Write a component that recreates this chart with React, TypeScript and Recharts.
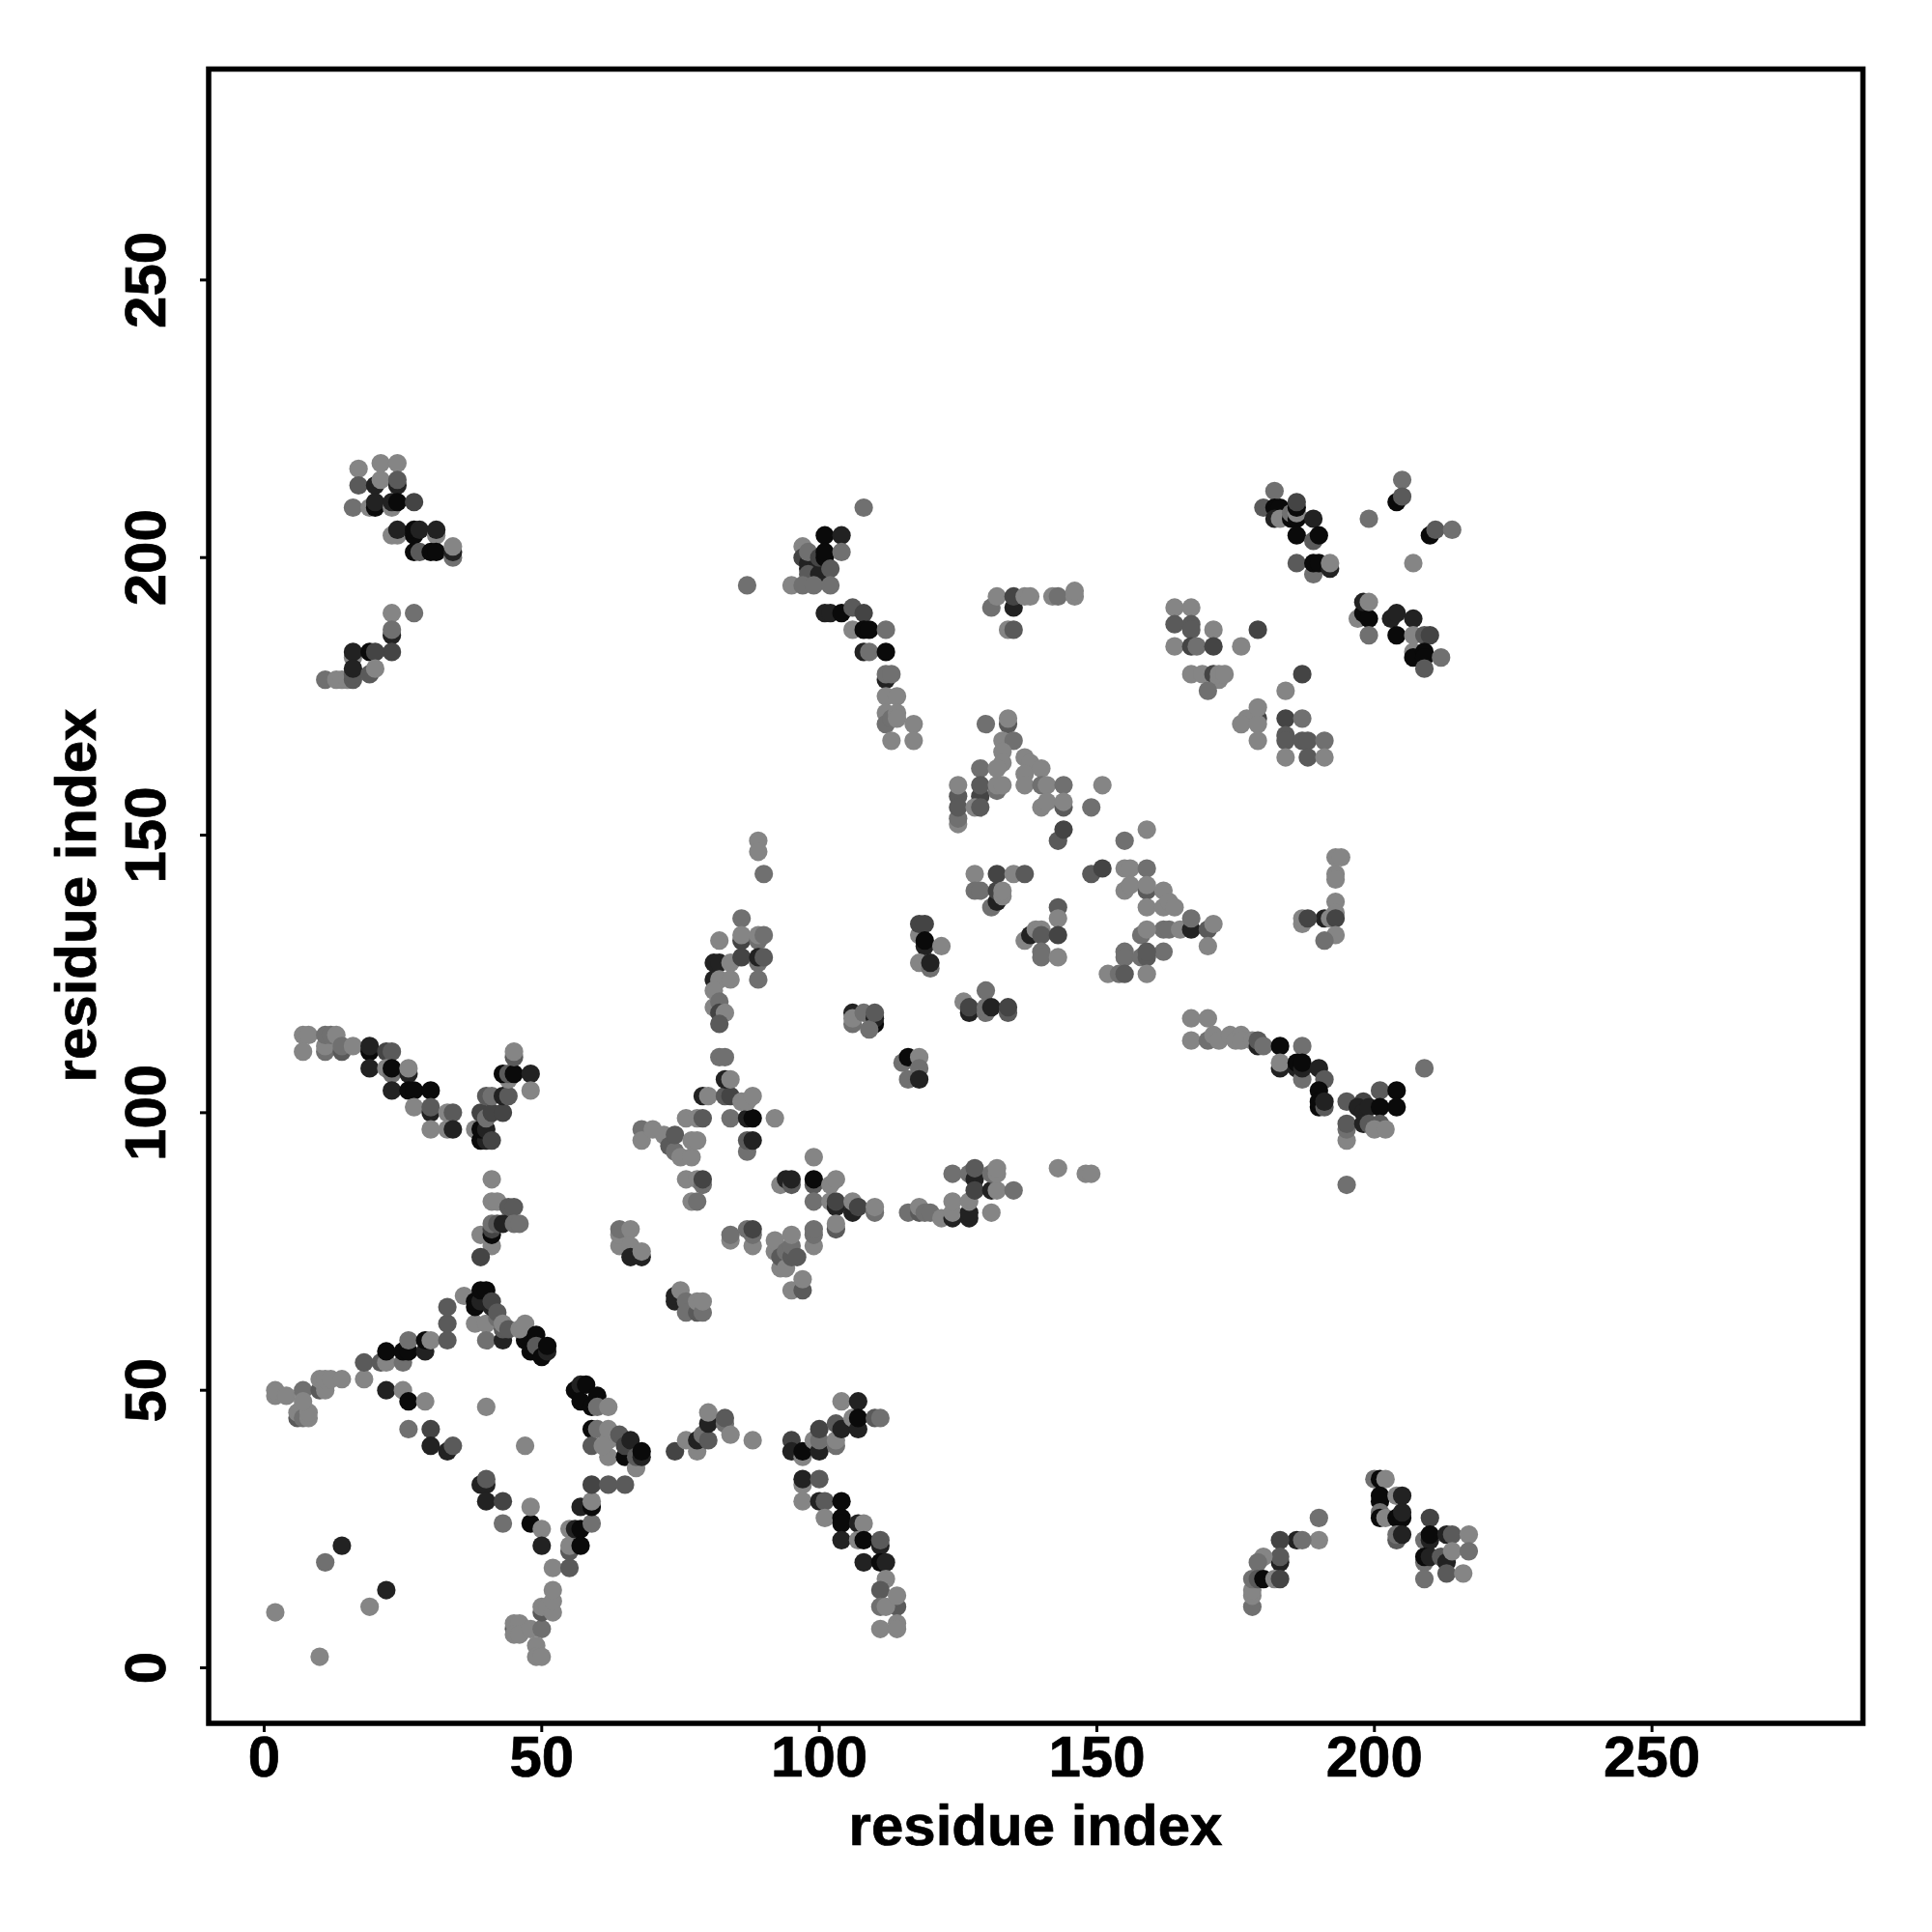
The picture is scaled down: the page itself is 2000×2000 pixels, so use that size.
import React from 'react';
import { ScatterChart, Scatter, XAxis, YAxis, ReferenceArea } from 'recharts';

type T = [number, number, number];
const FONT = '"Liberation Sans", Arial, sans-serif';
const SHADES = ['#0a0a0a', '#222222', '#444444', '#5a5a5a', '#707070', '#858585'];
const TICKS = [0, 50, 100, 150, 200, 250];

const sparse: T[] = [[2,10,5],[10,2,5],[11,19,4],[14,22,1],[19,11,5],[22,14,1],[26,43,4],[30,43,2],[30,40,1],[33,39,1],[34,40,3],[40,47,5],[47,40,5],[22,50,1],[25,50,5],[26,48,0],[29,48,5]];
const arcA: T[] = [[45,7,3],[45,8,5],[46,8,5],[45,6,5],[46,6,5],[48,7,5],[50,7,4],[49,4,5],[49,2,5],[50,2,5],[50,10,3],[50,11,5],[51,11,5],[52,10,5],[52,12,5],[52,14,5],[52,18,5],[55,18,3],[55,21,3],[55,22,5],[55,25,5],[56,25,1],[57,25,0],[57,22,0],[59,26,4],[57,29,1],[59,29,0],[59,30,5],[59,33,2],[62,33,3],[65,33,3],[39,33,1],[40,33,1],[40,34,3],[40,30,1],[43,30,2],[43,26,4],[48,26,0],[48,29,5],[50,25,5],[50,22,1]];
const arcB: T[] = [[2,49,5],[2,50,5],[4,49,5],[7,50,4],[6,45,3],[6,46,5],[7,45,4],[8,45,5],[8,46,5],[7,48,5],[10,50,3],[11,50,5],[10,52,5],[11,52,5],[12,52,5],[14,52,5],[18,52,5],[18,55,3],[21,55,3],[22,55,5],[22,57,0],[25,55,4],[25,57,0],[26,57,0],[26,59,4],[29,57,1],[29,59,0],[30,59,5],[33,59,3],[33,62,3],[33,65,3],[36,67,5],[38,62,5],[40,62,5],[40,59,4],[38,65,0],[38,66,0],[39,66,1],[39,68,0],[40,68,0],[41,65,1],[41,66,2],[42,63,4],[42,64,3],[43,59,1],[43,61,3],[43,62,5],[44,61,3],[47,59,0],[47,60,0],[46,61,5],[47,62,5],[49,60,0],[48,57,0],[49,58,3],[50,56,0],[51,57,1],[51,58,0]];
const armC: T[] = [[41,88,5],[41,84,5],[42,84,5],[44,83,3],[45,83,3],[41,76,5],[39,78,5],[41,78,0],[41,79,2],[41,80,4],[42,80,3],[43,80,1],[45,80,4],[46,80,4],[39,74,2]];
const crossD: T[] = [[56,50,0],[57,51,1],[58,51,0],[57,48,0],[59,47,0],[60,49,0],[60,47,4],[62,47,5],[59,43,0],[59,40,3],[60,43,4],[62,38,5],[62,41,5],[62,43,5],[61,40,5],[64,42,3],[65,38,0],[65,40,2],[66,41,1],[67,36,5],[67,38,3],[68,38,1],[68,39,0]];
const rowE: T[] = [[74,39,2],[76,41,5],[78,39,5],[78,41,1],[79,42,4],[80,41,3],[80,44,1],[80,46,5],[83,44,4],[83,45,3],[84,42,5],[88,41,5]];
const rowF: T[] = [[95,41,2],[95,39,1],[97,38,5],[97,39,0],[99,41,5],[100,39,1],[100,41,4],[100,43,2],[103,40,4],[103,41,5],[103,44,3],[104,43,1],[104,48,5],[106,45,5],[107,48,1],[107,43,1],[107,45,0],[110,45,3],[111,45,4]];
const armG: T[] = [[97,33,5],[97,34,1],[100,34,3],[97,30,5],[100,30,1],[101,30,3],[104,30,0],[101,27,5],[104,27,0],[104,26,0],[104,23,1],[107,26,1],[108,26,5],[107,23,5],[108,23,0],[111,22,1],[111,23,3],[108,19,1],[111,19,0],[112,19,1],[112,16,5],[111,14,3],[114,11,3],[111,11,4],[112,11,5],[114,13,5],[111,7,5],[114,8,5],[114,7,5]];
const midH: T[] = [[64,76,5],[64,78,5],[64,79,4],[66,79,5],[66,76,5],[66,74,1],[68,74,1],[68,75,5],[74,66,1],[74,67,1],[75,68,5],[76,66,4],[76,64,4],[78,64,3],[78,66,5],[79,64,4],[79,66,5],[84,77,5],[84,78,4],[87,79,4],[88,76,5],[88,78,4],[88,79,2],[92,75,5],[92,77,5],[93,72,5],[93,74,3],[94,72,5],[94,75,4],[95,68,5],[95,74,3],[95,76,4],[95,78,5],[96,74,3],[97,68,3],[97,70,5],[99,76,5],[99,78,4],[99,79,4]];
const midI: T[] = [[68,97,4],[68,95,5],[70,97,5],[72,96,5],[73,94,3],[74,93,4],[74,96,3],[75,92,5],[77,92,5],[77,95,5],[78,95,5],[76,99,5],[78,99,5],[79,99,3],[84,99,4],[87,99,1],[88,99,0],[92,99,5],[87,93,4],[87,95,3],[88,95,1],[76,88,5],[78,88,5],[79,87,4],[79,88,2],[77,84,5],[78,84,4],[79,103,1],[80,103,5],[83,103,3],[84,103,2],[86,102,5],[87,102,5],[88,103,5],[83,106,1],[84,106,5],[82,110,4],[83,110,4],[93,87,5],[94,88,1],[95,87,3],[95,88,1]];
const rowJ: T[] = [[99,92,5],[99,87,3],[99,88,0],[99,84,4],[102,87,5],[103,88,5],[102,84,5],[103,83,1],[103,84,2],[106,82,1],[106,84,5],[107,83,2],[110,82,4],[110,83,5],[103,79,3],[103,80,5],[116,82,4],[118,82,3],[118,83,5],[119,82,4],[120,82,4],[122,81,5],[124,81,1],[124,82,5],[124,84,5],[124,89,4],[127,81,1],[127,82,1],[127,84,5],[127,89,4],[128,88,1],[128,90,3],[128,86,2],[131,82,5],[131,86,1],[131,89,4],[132,86,5],[132,89,5],[132,90,5],[135,86,4],[143,90,5],[148,89,5],[149,89,5]];
const bandK: T[] = [[7,114,5],[8,114,5],[7,111,5],[11,111,4],[11,112,5],[11,114,4],[12,114,4],[13,114,5],[14,111,3],[14,112,4],[16,112,5],[19,111,0],[19,112,1],[19,108,1],[22,111,2],[23,111,3],[22,108,5],[23,107,4],[23,108,0],[23,104,1],[26,107,1],[26,108,5],[26,104,0],[27,104,0],[30,104,0],[27,101,5],[30,100,1],[30,101,3],[33,100,5],[34,100,3],[30,97,5],[33,97,5],[34,97,1]];
const bandL: T[] = [[38,97,5],[39,95,0],[40,95,1],[39,97,0],[40,97,1],[39,100,2],[40,99,4],[41,100,2],[41,95,2],[40,103,3],[41,103,4],[43,100,2],[43,103,1],[44,103,3],[44,106,5],[43,107,0],[44,107,3],[45,107,0],[45,110,3],[45,111,5],[48,107,1],[48,104,5]];
const topM: T[] = [[17,216,5],[21,217,5],[24,217,5],[17,213,3],[20,213,1],[21,214,5],[24,213,1],[24,214,3],[16,209,4],[19,209,5],[20,209,0],[20,210,1],[23,209,5],[23,210,1],[24,210,0],[27,210,2],[23,204,5],[24,204,5],[24,205,1],[27,204,0],[27,205,0],[28,205,1],[31,204,5],[31,205,1],[27,201,0],[28,201,3],[30,201,0],[31,201,0],[34,200,4],[34,201,1],[34,202,5]];
const topN: T[] = [[23,190,5],[27,190,4],[23,186,1],[23,187,4],[23,183,2],[16,182,5],[16,183,1],[19,183,0],[20,183,2],[11,178,4],[13,178,5],[14,178,5],[15,178,5],[16,178,3],[16,179,3],[16,180,1],[19,179,3],[20,180,5]];
const clusterO: T[] = [[108,209,4],[101,204,0],[104,204,1],[97,202,5],[97,200,2],[98,198,1],[98,199,1],[98,197,3],[98,201,4],[100,197,1],[100,200,2],[101,200,0],[101,201,0],[104,201,4],[102,198,3],[95,195,5],[97,195,4],[99,195,4],[102,195,4],[101,190,1],[102,190,1],[104,190,0],[106,191,3],[108,190,2],[106,187,5],[108,187,0],[109,187,0],[112,187,4],[108,183,1],[109,183,4],[112,183,0],[87,195,4]];
const clusterP: T[] = [[112,178,1],[112,179,4],[113,179,4],[112,175,5],[112,172,5],[112,170,4],[113,171,4],[114,175,5],[114,172,5],[114,171,5],[117,170,5],[113,167,5],[117,167,5]];
const clusterQ: T[] = [[131,191,4],[132,193,5],[135,191,1],[135,193,2],[137,193,5],[138,193,5],[134,187,5],[135,187,3],[142,193,5],[143,193,4],[146,193,5],[146,194,5]];
const peakR: T[] = [[130,170,4],[134,170,3],[134,171,5],[133,167,5],[135,167,4],[133,165,5],[133,163,5],[129,162,4],[132,162,5],[137,164,5],[138,163,5],[137,161,5],[137,159,5],[140,162,5],[140,159,4],[141,159,5],[144,159,4],[140,155,5],[141,156,5],[144,155,3],[144,156,5],[151,159,5],[149,155,4],[125,157,3],[125,159,5],[129,157,2],[129,159,3],[132,158,4],[132,159,5],[133,159,5],[125,152,5],[125,153,4],[125,155,3],[128,155,5],[129,155,3],[143,149,3],[144,151,2]];
const peakS: T[] = [[159,151,5],[155,149,4],[149,143,3],[151,144,2],[155,144,5],[156,144,5],[159,144,4],[155,140,5],[156,141,5],[159,140,3],[159,141,5],[162,140,5],[159,137,5],[162,137,5],[163,138,5],[164,137,5],[162,133,4],[163,133,4],[165,133,5],[167,133,1],[167,135,4],[170,133,3],[171,134,5],[170,130,5],[158,132,4],[159,133,5],[162,129,4],[155,129,4],[155,128,4],[158,128,4],[159,128,3],[159,129,3],[152,125,5],[154,125,4],[155,125,3],[159,125,5]];
const midT: T[] = [[128,143,5],[132,143,2],[135,143,5],[137,143,3],[128,140,4],[129,140,4],[131,137,4],[132,138,1],[132,140,2],[133,139,5],[133,140,5],[143,137,3],[143,135,5],[137,131,5],[138,132,1],[139,133,5],[140,133,5],[140,132,3],[143,132,2],[140,129,4],[140,128,4],[143,128,5]];
const midU: T[] = [[118,132,5],[118,134,2],[119,134,2],[119,130,1],[119,131,0],[122,130,5],[118,127,5],[120,126,4],[120,127,1],[106,116,4],[106,118,1],[106,117,5],[108,118,4],[110,116,0],[110,117,1],[109,115,4],[110,118,3],[126,120,5],[127,118,1],[127,119,2],[130,122,4],[130,118,4],[130,119,4],[131,119,1],[134,118,3],[134,119,2],[115,109,4],[116,110,0],[118,110,5],[118,108,4],[116,106,4],[118,106,1]];
const upperV: T[] = [[90,143,4],[89,149,5],[89,147,5],[86,135,4],[86,131,2],[86,132,5],[89,131,4],[89,132,5],[90,132,4],[82,131,5],[81,127,1],[82,127,1],[84,127,5],[86,128,2],[89,127,4],[89,128,1],[90,128,3],[89,124,4],[81,124,1],[82,124,5],[84,124,5],[81,122,5],[81,119,5],[82,120,4],[82,118,2],[83,118,5],[82,116,3]];
const rightW: T[] = [[182,212,4],[180,209,3],[182,209,0],[183,209,0],[182,207,1],[183,207,5],[185,207,0],[185,208,4],[186,207,0],[186,208,5],[186,209,0],[186,210,2],[189,207,1],[186,204,0],[189,203,3],[190,204,0],[186,199,3],[189,197,4],[189,199,0],[190,199,0],[192,198,1],[192,199,5],[199,207,4],[205,214,4],[204,210,0],[205,211,3],[207,199,5],[210,204,0],[211,205,3],[214,205,4]];
const rightX: T[] = [[197,189,5],[198,190,0],[198,192,1],[199,189,0],[199,192,5],[199,186,4],[203,189,1],[204,190,1],[207,189,1],[204,186,0],[207,186,5],[209,186,3],[210,186,2],[207,183,5],[207,182,0],[209,183,0],[209,182,0],[209,180,3],[212,182,4]];
const rightY: T[] = [[164,191,5],[167,191,5],[164,188,3],[167,188,3],[167,187,3],[171,187,5],[164,184,5],[167,184,2],[168,184,4],[171,184,2],[176,184,5],[179,187,2],[167,179,5],[169,179,5],[171,179,2],[172,178,5],[172,179,5],[173,179,5],[170,176,4],[187,179,2],[184,176,5],[179,171,2],[177,171,5],[176,170,5],[179,170,5],[179,173,5],[179,167,5],[184,171,2],[187,171,4],[184,168,3],[184,167,3],[187,167,3],[188,167,3],[191,167,4],[184,164,5],[188,164,3],[191,164,5]];
const rightZ: T[] = [[193,146,5],[194,146,5],[193,143,5],[193,142,5],[193,138,5],[193,136,5],[191,135,1],[192,135,5],[193,135,2],[187,134,5],[187,135,5],[188,135,2],[193,132,5],[191,131,4]];
const lowerA: T[] = [[167,117,5],[170,117,5],[167,113,5],[170,113,4],[171,114,5],[172,113,5],[174,114,5],[175,113,5],[176,114,5],[176,113,5],[178,113,5],[179,112,1],[179,113,3],[180,112,4],[183,112,0],[187,112,4],[183,108,1],[183,109,5],[186,108,1],[187,106,4],[186,109,0],[187,108,1],[187,109,0],[190,108,1],[191,106,3],[190,104,0],[190,101,0],[190,102,0],[191,101,3],[191,102,1],[209,108,4]];
const lowerB: T[] = [[201,104,3],[204,104,0],[195,102,3],[198,102,2],[195,95,5],[195,97,4],[195,98,3],[197,101,1],[198,100,1],[199,101,1],[201,101,0],[204,101,0],[198,98,1],[199,98,3],[201,98,3],[200,97,5],[202,97,5],[195,87,4]];
const cornerC: T[] = [[190,27,4],[190,23,5],[186,23,1],[187,23,4],[183,23,2],[183,19,1],[183,20,3],[180,20,5],[179,19,4],[178,11,4],[178,13,5],[178,14,5],[178,16,4],[179,16,3],[180,16,0],[182,16,5],[183,16,2]];
const cornerD: T[] = [[200,34,4],[201,34,0],[202,34,5],[201,30,0],[201,31,0],[204,31,5],[205,31,1],[201,28,4],[201,27,0],[202,27,5],[204,27,0],[205,27,0],[205,28,1],[204,23,3],[204,24,4],[205,24,1]];
const cornerE: T[] = [[210,27,2],[209,23,4],[210,23,1],[210,24,0],[213,24,1],[214,24,3],[217,24,5],[209,19,4],[209,20,0],[210,20,1],[212,20,3],[213,19,1],[214,21,5],[217,21,4],[209,16,4],[213,17,3],[216,17,5]];

const clusters: T[][] = [sparse, arcA, arcB, armC, crossD, rowE, rowF, armG, midH, midI, rowJ, bandK, bandL, topM, topN, clusterO, clusterP, clusterQ, peakR, peakS, midT, midU, upperV, rightW, rightX, rightY, rightZ, lowerA, lowerB, cornerC, cornerD, cornerE];
const points = clusters.flat().map(([x, y, level]) => ({ x, y, level }));

const Dot = (p: any) => <circle cx={p.cx} cy={p.cy} r={9.6} fill={SHADES[p.payload.level]} />;

const textProps = { fontFamily: FONT, fontWeight: 'bold', fontSize: 60, fill: '#000', stroke: '#000', strokeWidth: 0.7, textAnchor: 'middle' } as const;

const XTick = (p: any) => (
  <text x={p.x} y={1839} {...textProps}>
    {p.payload.value}
  </text>
);
const YTick = (p: any) => (
  <text x={171} y={p.y} {...textProps} transform={`rotate(-90 171 ${p.y})`}>
    {p.payload.value}
  </text>
);
const XTitle = () => (
  <text x={1072} y={1910} {...textProps}>residue index</text>
);
const YTitle = () => (
  <text x={99} y={927} {...textProps} transform="rotate(-90 99 927)">residue index</text>
);

export default function App() {
  return (
    <div style={{ position: 'absolute', left: 0, top: 0, width: 2000, height: 2000, background: '#fff' }}>
      <ScatterChart width={2000} height={2000} margin={{ top: 71.5, right: 71.5, bottom: 96, left: 96 }}>
        <XAxis type="number" dataKey="x" domain={[-10, 288]} ticks={TICKS} allowDataOverflow height={120} axisLine={false} tickSize={9} tickLine={{ stroke: '#000', strokeWidth: 3 }} tick={<XTick />} label={<XTitle />} interval={0} />
        <YAxis type="number" dataKey="y" domain={[-10, 288]} ticks={TICKS} allowDataOverflow width={120} axisLine={false} tickSize={9} tickLine={{ stroke: '#000', strokeWidth: 3 }} tick={<YTick />} label={<YTitle />} interval={0} />
        <Scatter data={points} isAnimationActive={false} shape={<Dot />} />
        <ReferenceArea x1={-10} x2={288} y1={-10} y2={288} fill="none" fillOpacity={0} stroke="#000" strokeWidth={5.5} ifOverflow="visible" />
      </ScatterChart>
    </div>
  );
}
